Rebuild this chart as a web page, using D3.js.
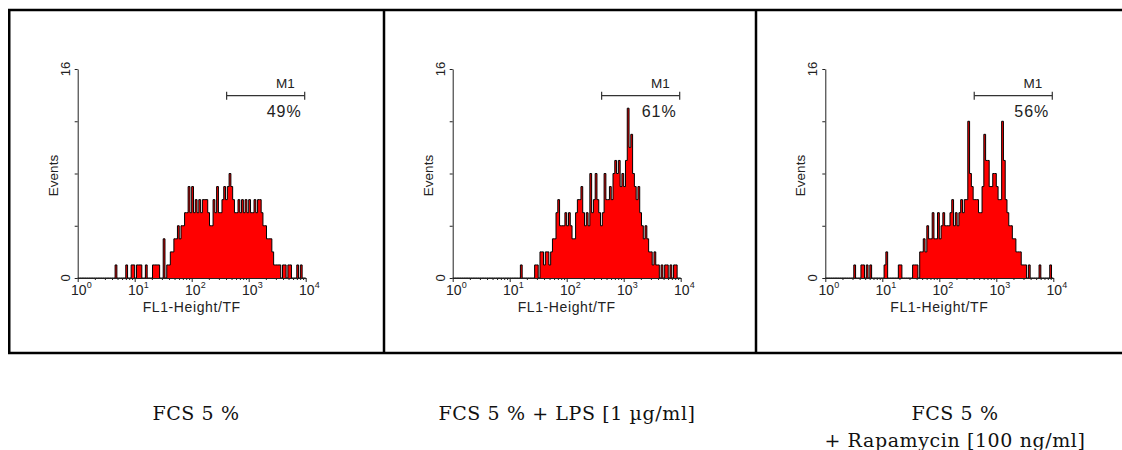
<!DOCTYPE html>
<html>
<head>
<meta charset="utf-8">
<script src="https://cdn.jsdelivr.net/npm/d3@7"></script>
<style>
  html, body { margin: 0; padding: 0; background: #fff; }
  svg { display: block; }
</style>
</head>
<body>
<svg id="chart" width="1122" height="450"></svg>
<script>
// ---------------- DATA ----------------
const panelTitles = [["FCS 5 %"], ["FCS 5 % + LPS [1 µg/ml]"], ["FCS 5 %", "+ Rapamycin [100 ng/ml]"]];
const gatePercents = ["49%", "61%", "56%"];
const gateLabel = "M1";
const gateRange = [410, 9600];
const xTickValues = [1, 10, 100, 1000, 10000];
const xTickExponents = ["0", "1", "2", "3", "4"];
const yTickValues = [0, 4, 8, 12, 16];
const yLabelledTicks = [0, 16];
const xAxisTitle = "FL1-Height/TF";
const yAxisTitle = "Events";

// 128 channels spanning 10^0 .. 10^4 (events per channel)
const countsFCS = [
  0,0,0,0,0,0,0,0,0,0,0,0,0,0,0,0,0,0,0,0,
  0,1,0,0,0,0,0,1,0,0,1,1,0,1,1,1,0,0,1,0,
  0,0,1,1,1,1,0,0,3,0,1,1,2,2,3,3,4,3,4,4,
  5,5,7,5,7,5,6,5,6,5,6,6,6,5,4,4,6,5,7,5,
  5,6,7,6,7,8,7,6,5,5,6,5,6,5,6,5,6,5,5,6,
  5,6,6,5,4,4,3,3,3,2,1,1,1,1,0,1,1,0,1,1,
  0,0,0,1,0,1,0,0
];
const countsLPS = [
  0,0,0,0,0,0,0,0,0,0,0,0,0,0,0,0,0,0,0,0,
  0,0,0,0,0,0,0,0,0,0,0,0,0,0,0,0,0,0,1,0,
  0,0,0,0,0,0,1,1,0,2,2,1,2,2,1,2,3,3,5,6,
  4,4,4,5,4,5,4,3,3,5,6,6,7,5,4,5,4,8,5,6,
  8,6,5,4,5,8,6,6,7,6,8,9,8,9,7,8,7,9,13,10,
  11,8,7,6,7,5,4,3,4,3,2,2,1,2,1,1,0,1,0,1,
  1,0,1,0,1,1,0,0
];
const countsRapa = [
  0,0,0,0,0,0,0,0,0,0,0,0,0,0,0,0,1,0,0,0,
  1,1,0,1,0,1,0,0,0,0,0,0,0,1,2,0,0,0,0,0,
  0,1,1,0,0,0,0,0,0,1,1,1,0,2,2,3,2,4,3,3,
  5,3,3,5,3,4,5,4,4,4,5,6,4,5,4,5,6,5,6,6,
  12,8,7,6,6,6,5,5,7,11,9,9,7,7,8,8,7,6,6,12,
  9,6,5,4,4,3,3,2,2,2,1,1,1,0,1,0,0,0,0,0,
  1,0,0,0,0,0,1,0
];
const panelCounts = [countsFCS, countsLPS, countsRapa];

// ---------------- LAYOUT ----------------
const svg = d3.select("#chart");
const panelOffsets = [0, 375, 747.6];
const plotLeft = 77.7, plotWidth = 228, plotTop = 69, plotBottom = 278;
const axisColor = "#222";
const sans = "'Liberation Sans', Arial, sans-serif";

// outer frame
const frame = svg.append("g").attr("stroke", "#000").attr("stroke-width", 2.5).attr("fill", "none");
frame.append("path").attr("d", "M1124,10 H9.25 V353 H1124");
frame.append("line").attr("x1", 384).attr("x2", 384).attr("y1", 10).attr("y2", 353);
frame.append("line").attr("x1", 756).attr("x2", 756).attr("y1", 10).attr("y2", 353);

const x = d3.scaleLog().domain([1, 10000]).range([0, plotWidth]);
const y = d3.scaleLinear().domain([0, 16]).range([plotBottom, plotTop]);

panelCounts.forEach((counts, p) => {
  const g = svg.append("g").attr("transform", `translate(${panelOffsets[p] + plotLeft},0)`);
  const n = counts.length;
  const edges = d3.range(n + 1).map(i => Math.pow(10, i * 4 / n));
  const pts = counts.map((v, i) => ({ e: edges[i], v }));
  pts.push({ e: edges[n], v: counts[n - 1] });

  const area = d3.area().curve(d3.curveStepAfter)
    .x(d => x(d.e)).y0(y(0)).y1(d => y(d.v));
  const line = d3.line().curve(d3.curveStepAfter)
    .x(d => x(d.e)).y(d => y(d.v));

  g.append("path").attr("d", area(pts)).attr("fill", "#ff0000");
  g.append("path").attr("d", line(pts)).attr("fill", "none")
    .attr("stroke", "#000").attr("stroke-width", 1);

  // x axis (log, major + minor ticks)
  const minor = [];
  for (let d = 0; d < 4; d++) for (let k = 2; k <= 9; k++) minor.push(k * Math.pow(10, d));
  const xa = g.append("g").attr("transform", `translate(0,${plotBottom})`);
  xa.append("g").call(d3.axisBottom(x).tickValues(minor).tickSize(2).tickFormat("").tickSizeOuter(0))
    .call(s => s.select(".domain").remove())
    .call(s => s.selectAll("line").attr("stroke", axisColor));
  xa.append("g").call(d3.axisBottom(x).tickValues(xTickValues).tickSize(4).tickFormat("").tickSizeOuter(0))
    .call(s => s.select(".domain").attr("stroke", axisColor))
    .call(s => s.selectAll("line").attr("stroke", axisColor));
  xTickValues.forEach((v, i) => {
    xa.append("text").attr("x", x(v) + 1).attr("y", 17)
      .attr("font-family", sans).attr("font-size", 14).attr("fill", axisColor)
      .attr("text-anchor", "middle").text("10");
    xa.append("text").attr("x", x(v) + 9).attr("y", 9.5)
      .attr("font-family", sans).attr("font-size", 9).attr("fill", axisColor)
      .text(xTickExponents[i]);
  });
  xa.append("text").attr("x", plotWidth / 2).attr("y", 34)
    .attr("font-family", sans).attr("font-size", 14).attr("letter-spacing", 0.6)
    .attr("fill", axisColor).attr("text-anchor", "middle").text(xAxisTitle);

  // y axis
  const ya = g.append("g");
  ya.call(d3.axisLeft(y).tickValues(yTickValues).tickSize(3).tickFormat("").tickSizeOuter(0))
    .call(s => s.select(".domain").attr("stroke", axisColor))
    .call(s => s.selectAll("line").attr("stroke", axisColor));
  yLabelledTicks.forEach(v => {
    ya.append("text").attr("transform", `translate(-8,${y(v)}) rotate(-90)`)
      .attr("font-family", sans).attr("font-size", 13).attr("fill", axisColor)
      .attr("text-anchor", "middle").text(String(v));
  });
  ya.append("text").attr("transform", `translate(-20,${(plotTop + plotBottom) / 2 + 2}) rotate(-90)`)
    .attr("font-family", sans).attr("font-size", 13.5).attr("fill", axisColor)
    .attr("text-anchor", "middle").text(yAxisTitle);

  // M1 gate
  const gy = 95.7;
  const gg = g.append("g").attr("stroke", "#333").attr("stroke-width", 1.2);
  gg.append("line").attr("x1", x(gateRange[0])).attr("x2", x(gateRange[1])).attr("y1", gy).attr("y2", gy);
  gg.append("line").attr("x1", x(gateRange[0])).attr("x2", x(gateRange[0])).attr("y1", gy - 4).attr("y2", gy + 4);
  gg.append("line").attr("x1", x(gateRange[1])).attr("x2", x(gateRange[1])).attr("y1", gy - 4).attr("y2", gy + 4);
  g.append("text").attr("x", x(gateRange[1]) - 10).attr("y", gy - 8)
    .attr("font-family", sans).attr("font-size", 13.5).attr("fill", axisColor)
    .attr("text-anchor", "end").text(gateLabel);
  g.append("text").attr("x", x(gateRange[1]) - 3).attr("y", gy + 21)
    .attr("font-family", sans).attr("font-size", 16).attr("letter-spacing", 1)
    .attr("fill", axisColor).attr("text-anchor", "end").text(gatePercents[p]);
});

// captions
const captionCenters = [196, 567, 955];
panelTitles.forEach((lines, p) => {
  lines.forEach((t, k) => {
    svg.append("text").attr("x", captionCenters[p]).attr("y", 420 + k * 27)
      .attr("font-family", "'DejaVu Serif', serif").attr("font-size", 19)
      .attr("letter-spacing", 0.6)
      .attr("fill", "#111").attr("text-anchor", "middle").text(t);
  });
});
</script>
</body>
</html>
